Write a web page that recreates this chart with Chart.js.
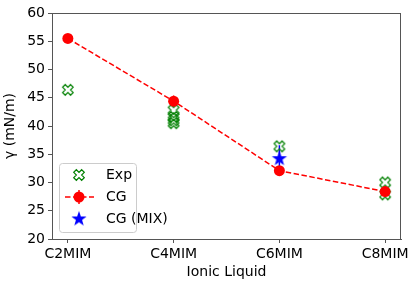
<!DOCTYPE html>
<html>
<head>
<meta charset="utf-8">
<script src="https://cdn.jsdelivr.net/npm/chart.js@4"></script>
<style>
  html, body { margin: 0; padding: 0; background: #fff; }
  #wrap { width: 417px; height: 287px; }
</style>
</head>
<body>
<div id="wrap"><canvas id="chart" width="417" height="287"></canvas></div>
<script>
// ── Data ──────────────────────────────────────────────────────────────
const liquids = ['C2MIM', 'C4MIM', 'C6MIM', 'C8MIM'];
const yTicks  = [20, 25, 30, 35, 40, 45, 50, 55, 60];

// experimental (several values per liquid)
const expX = [0, 1, 1, 1, 1, 2, 3, 3];
const expY = [46.4, 42.8, 41.6, 41.0, 40.5, 36.4, 30.0, 27.9];

// coarse grained
const cgY   = [55.5, 44.4, 32.1, 28.4];
const cgErr = [0.2, 1.0, 0.5, 1.0];

// coarse grained, mixture
const mixX   = [2];
const mixY   = [34.3];
const mixErr = [2.3];

const FONT = 'DejaVu Sans';

// ── Markers ───────────────────────────────────────────────────────────
function hollowX(color) {
    const c = document.createElement('canvas');
    c.width = c.height = 16;
    const g = c.getContext('2d');
    g.translate(8, 8);
    g.rotate(Math.PI / 4);
    const s = 5.6, w = s / 3;
    g.beginPath();
    g.moveTo(-w, -s); g.lineTo(w, -s); g.lineTo(w, -w); g.lineTo(s, -w);
    g.lineTo(s, w); g.lineTo(w, w); g.lineTo(w, s); g.lineTo(-w, s);
    g.lineTo(-w, w); g.lineTo(-s, w); g.lineTo(-s, -w); g.lineTo(-w, -w);
    g.closePath();
    g.strokeStyle = color;
    g.lineWidth = 1.2;
    g.stroke();
    return c;
}

function filledStar(color) {
    const c = document.createElement('canvas');
    c.width = c.height = 18;
    const g = c.getContext('2d');
    g.translate(9, 9.5);
    const ro = 8, ri = 3.2;
    g.beginPath();
    for (let i = 0; i < 10; i++) {
        const r = i % 2 ? ri : ro;
        const a = -Math.PI / 2 + i * Math.PI / 5;
        g.lineTo(r * Math.cos(a), r * Math.sin(a));
    }
    g.closePath();
    g.fillStyle = color;
    g.fill();
    return c;
}

const xMark    = hollowX('#008000');
const starMark = filledStar('#0000ff');

// ── Plugins ───────────────────────────────────────────────────────────
const errorBars = {
    id: 'errorBars',
    beforeDatasetsDraw(chart) {
        const { ctx, scales: { x, y } } = chart;
        ctx.save();
        ctx.lineWidth = 1.5;
        const draw = (xs, ys, es, color) => {
            ctx.strokeStyle = color;
            xs.forEach((xv, i) => {
                const px = x.getPixelForValue(xv);
                ctx.beginPath();
                ctx.moveTo(px, y.getPixelForValue(ys[i] - es[i]));
                ctx.lineTo(px, y.getPixelForValue(ys[i] + es[i]));
                ctx.stroke();
            });
        };
        draw(cgY.map((v, i) => i), cgY, cgErr, '#ff0000');
        draw(mixX, mixY, mixErr, '#0000ff');
        ctx.restore();
    }
};

const frame = {
    id: 'frame',
    afterDraw(chart) {
        const { ctx, chartArea: a } = chart;
        ctx.save();
        ctx.strokeStyle = '#555';
        ctx.lineWidth = 1;
        ctx.strokeRect(a.left + 0.5, a.top + 0.5, a.right - a.left - 1, a.bottom - a.top);
        ctx.restore();
    }
};

const boxLegend = {
    id: 'boxLegend',
    afterDraw(chart) {
        const ctx = chart.ctx;
        const bx = 59, by = 163, bw = 77, bh = 69;
        ctx.save();
        ctx.beginPath();
        ctx.roundRect(bx + 0.5, by + 0.5, bw, bh, 3);
        ctx.fillStyle = 'rgba(255,255,255,0.8)';
        ctx.fill();
        ctx.strokeStyle = '#cccccc';
        ctx.lineWidth = 1;
        ctx.stroke();

        const mx = 79;
        const rows = [175, 197, 219];
        // Exp
        ctx.drawImage(xMark, mx - 8, rows[0] - 8);
        // CG: dashed line + circle
        ctx.strokeStyle = '#ff0000';
        ctx.lineWidth = 1.5;
        ctx.setLineDash([5.5, 2.5]);
        ctx.beginPath();
        ctx.moveTo(65, rows[1]); ctx.lineTo(94, rows[1]);
        ctx.stroke();
        ctx.setLineDash([]);
        ctx.beginPath();
        ctx.moveTo(mx, rows[1] - 7); ctx.lineTo(mx, rows[1] + 7);
        ctx.stroke();
        ctx.beginPath();
        ctx.arc(mx, rows[1], 5.5, 0, Math.PI * 2);
        ctx.fillStyle = '#ff0000';
        ctx.fill();
        // CG (MIX)
        ctx.drawImage(starMark, mx - 9, rows[2] - 9.5);

        ctx.fillStyle = '#000';
        ctx.font = '14px "' + FONT + '"';
        ctx.textBaseline = 'middle';
        ctx.fillText('Exp', 106, rows[0]);
        ctx.fillText('CG', 106, rows[1]);
        ctx.fillText('CG (MIX)', 106, rows[2]);
        ctx.restore();
    }
};

// ── Chart ─────────────────────────────────────────────────────────────
new Chart(document.getElementById('chart'), {
    type: 'scatter',
    data: {
        datasets: [
            {
                label: 'Exp',
                data: expX.map((xv, i) => ({ x: xv, y: expY[i] })),
                pointStyle: xMark,
                showLine: false,
                order: 3,
            },
            {
                label: 'CG',
                data: cgY.map((v, i) => ({ x: i, y: v })),
                showLine: true,
                borderColor: '#ff0000',
                borderWidth: 1.5,
                borderDash: [5.5, 2.5],
                pointStyle: 'circle',
                pointRadius: 5.5,
                pointBackgroundColor: '#ff0000',
                pointBorderWidth: 0,
                order: 2,
            },
            {
                label: 'CG (MIX)',
                data: mixX.map((xv, i) => ({ x: xv, y: mixY[i] })),
                pointStyle: starMark,
                showLine: false,
                order: 1,
            }
        ]
    },
    options: {
        responsive: false,
        animation: false,
        events: [],
        layout: { padding: { top: 13, right: 16, left: 0, bottom: 0 } },
        plugins: { legend: { display: false }, tooltip: { enabled: false } },
        scales: {
            x: {
                type: 'linear',
                min: -0.15,
                max: 3.15,
                afterBuildTicks: s => { s.ticks = liquids.map((l, i) => ({ value: i })); },
                afterFit: s => { s.height = 48; },
                grid: { display: true, drawOnChartArea: false, drawTicks: true, tickLength: 4, color: '#555' },
                border: { display: true, color: '#555' },
                ticks: {
                    color: '#000',
                    padding: 3,
                    maxRotation: 0,
                    autoSkip: false,
                    font: { family: FONT, size: 14 },
                    callback: v => liquids[v]
                },
                title: {
                    display: true,
                    text: 'Ionic Liquid',
                    color: '#000',
                    font: { family: FONT, size: 14 },
                    padding: { top: 0, bottom: 6 }
                }
            },
            y: {
                min: 20,
                max: 60,
                afterBuildTicks: s => { s.ticks = yTicks.map(v => ({ value: v })); },
                afterFit: s => { s.width = 52; },
                grid: { display: true, drawOnChartArea: false, drawTicks: true, tickLength: 4, color: '#555' },
                border: { display: true, color: '#555' },
                ticks: {
                    color: '#000',
                    padding: 3,
                    font: { family: FONT, size: 14 }
                },
                title: {
                    display: true,
                    text: 'γ (mN/m)',
                    color: '#000',
                    font: { family: FONT, size: 14 },
                    padding: { top: 2, bottom: 0 }
                }
            }
        }
    },
    plugins: [errorBars, frame, boxLegend]
});
</script>
</body>
</html>
